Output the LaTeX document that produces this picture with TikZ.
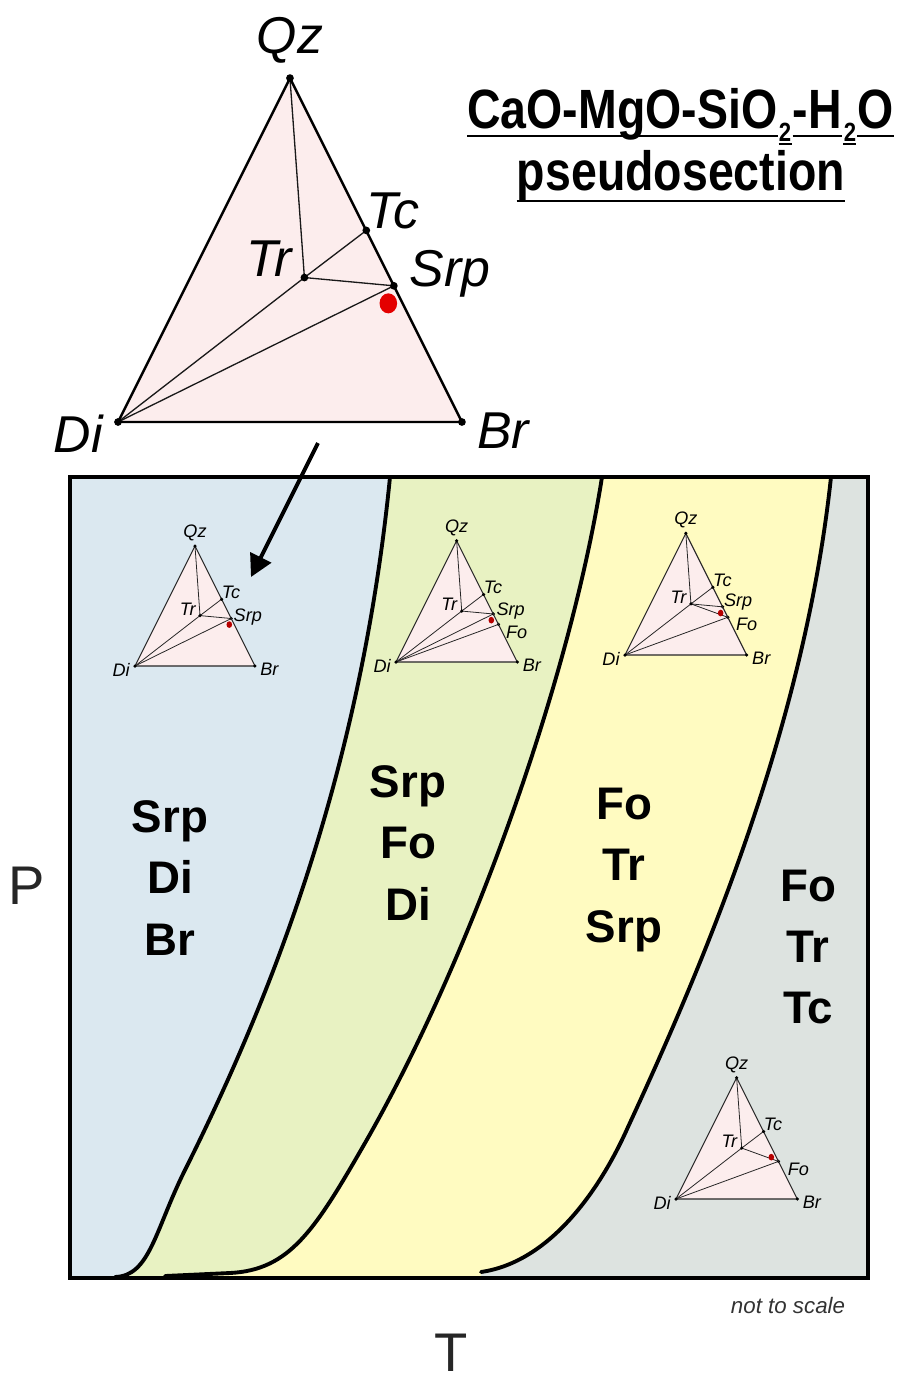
\documentclass[tikz,border=0pt]{standalone}
\usepackage{fontspec}
\setmainfont{Liberation Sans}
\usepackage{graphicx}
\usetikzlibrary{arrows.meta, calc}
\definecolor{zoneblue}{RGB}{219,232,240}
\definecolor{zonegreen}{RGB}{232,242,194}
\definecolor{zoneyellow}{RGB}{255,251,193}
\definecolor{zonegray}{RGB}{221,227,224}
\definecolor{tripink}{RGB}{252,237,237}
\definecolor{dotred}{RGB}{228,0,0}

% condensed bold title
\newcommand{\narrow}[1]{\scalebox{0.84}[1]{#1}}

% phase boundaries (pixel coordinates, y downwards), drawn from their top point
\newcommand{\bndA}{.. controls (360,780) and (265,1010) .. (185,1170) .. controls (155,1230) and (150,1276) .. (115,1277)}
\newcommand{\bndB}{.. controls (570,680) and (470,960) .. (365,1143) .. controls (315,1230) and (290,1270) .. (230,1273) -- (165,1276)}
\newcommand{\bndC}{.. controls (805,720) and (710,950) .. (628,1127) .. controls (600,1190) and (550,1262) .. (481,1272)}

% ternary Qz-Di-Br diagram: prefix, Di corner, side length, extra tie lines
\newcommand{\terntri}[4]{%
  \begin{scope}[shift={#2}, x=#3, y=#3]
    \coordinate (#1Di) at (0,0);
    \coordinate (#1Br) at (1,0);
    \coordinate (#1Qz) at (0.5,1);
    \coordinate (#1Tc) at (0.722,0.557);
    \coordinate (#1Srp) at (0.802,0.396);
    \coordinate (#1Fo) at (0.845,0.31);
    \coordinate (#1Tr) at (0.542,0.42);
    \coordinate (#1Ms) at (0.786,0.345);
    \fill[tripink] (#1Di) -- (#1Br) -- (#1Qz) -- cycle;
    \draw[tie] (#1Qz) -- (#1Tr) -- (#1Tc);
    \draw[tie] (#1Di) -- (#1Tr);
    #4
    \fill[mscolor] (#1Ms) circle[rdot];
    \draw[tedge] (#1Di) -- (#1Br) -- (#1Qz) -- cycle;
    \foreach \v in {Di,Br,Qz,Tr,Tc} \fill (#1\v) circle[vdot];
    \node[tlab] (#1QzL) at (0.5,1.11) {Qz};
    \node[tlab] (#1TcL) at (0.8,0.615) {Tc};
    \node[tlab] (#1TrL) at (0.44,0.475) {Tr};
    \node[tlab] (#1DiL) at (-0.115,-0.035) {Di};
    \node[tlab] (#1BrL) at (1.12,-0.025) {Br};
  \end{scope}}

\begin{document}
\begin{tikzpicture}[x=0.02cm, y=-0.02cm,
  tedge/.style={line width=0.6pt, draw=black!85},
  tie/.style={line width=0.45pt, draw=black!85},
  vdot/.style={radius=1pt},
  rdot/.style={x radius=1.6pt, y radius=1.9pt},
  mscolor/.style={fill=dotred!80!black},
  tlab/.style={font=\fontsize{10.3}{12}\selectfont\itshape, inner sep=0pt},
  zone/.style={font=\fontsize{26}{35}\selectfont\bfseries, align=center},
  bnd/.style={line width=2.2pt, line cap=round},
  ttl/.style={font=\fontsize{31.5}{34}\selectfont\bfseries, inner sep=0pt},
  ttlsub/.style={font=\fontsize{15}{17}\selectfont\bfseries, inner sep=0pt},
  uline/.style={line width=1.7pt},
  axlab/.style={font=\fontsize{31}{34}\selectfont, text=black!85, inner sep=0pt},
  arr/.style={-{Triangle[length=12.5pt, width=13pt]}, line width=2.2pt}
]
\useasboundingbox (0,0) rectangle (902,1383);

% fields of the P-T section
\fill[zonegray]   (70,477) rectangle (868,1278);
\fill[zoneyellow] (70,477) -- (831,477) \bndC -- (481,1278) -- (70,1278) -- cycle;
\fill[zonegreen]  (70,477) -- (602,477) \bndB -- (165,1278) -- (70,1278) -- cycle;
\fill[zoneblue]   (70,477) -- (390,477) \bndA -- (115,1278) -- (70,1278) -- cycle;
\draw[bnd] (390,477) \bndA;
\draw[bnd] (602,477) \bndB;
\draw[bnd] (831,477) \bndC;
\draw[line width=2.3pt] (70,477) rectangle (868,1278);

% big ternary
\begin{scope}[tedge/.style={line width=1.4pt, draw=black},
  tie/.style={line width=0.75pt, draw=black!90},
  vdot/.style={radius=2.2pt},
  rdot/.style={x radius=5pt, y radius=5.7pt},
  mscolor/.style={fill=dotred},
  tlab/.style={font=\fontsize{29.5}{32}\selectfont\itshape, inner sep=0pt}]
\terntri{m}{(118,422)}{6.88cm}{%
  \draw[tie] (mTr) -- (mSrp);
  \draw[tie] (mDi) -- (mSrp);
  \fill (mSrp) circle[vdot];
  \node[tlab] (mSrpL) at (0.965,0.43) {Srp};}
\end{scope}

% small ternaries
\terntri{a}{(135,666)}{2.4cm}{%
  \draw[tie] (aTr) -- (aSrp);
  \draw[tie] (aDi) -- (aSrp);
  \fill (aSrp) circle[vdot];
  \node[tlab] (aSrpL) at (0.94,0.41) {Srp};}
\terntri{b}{(396,662)}{2.426cm}{%
  \draw[tie] (bTr) -- (bSrp);
  \draw[tie] (bDi) -- (bSrp);
  \draw[tie] (bDi) -- (bFo);
  \fill (bSrp) circle[vdot];
  \fill (bFo) circle[vdot];
  \node[tlab] (bSrpL) at (0.945,0.42) {Srp};
  \node[tlab] (bFoL) at (0.995,0.245) {Fo};}
\terntri{c}{(625,655)}{2.434cm}{%
  \draw[tie] (cTr) -- (cSrp);
  \draw[tie] (cTr) -- (cFo);
  \draw[tie] (cDi) -- (cFo);
  \fill (cSrp) circle[vdot];
  \fill (cFo) circle[vdot];
  \node[tlab] (cSrpL) at (0.93,0.435) {Srp};
  \node[tlab] (cFoL) at (1.0,0.255) {Fo};}
\terntri{d}{(676,1199)}{2.426cm}{%
  \draw[tie] (dTr) -- (dFo);
  \draw[tie] (dDi) -- (dFo);
  \fill (dFo) circle[vdot];
  \node[tlab] (dFoL) at (1.01,0.245) {Fo};}

\coordinate (arrtop) at (318,443);
\coordinate (arrtip) at (251,577);
\draw[arr] (arrtop) -- (arrtip);

% assemblages
\node[zone] (zoneA) at (170,878) {Srp\\Di\\Br};
\node[zone] (zoneB) at (408,843) {Srp\\Fo\\Di};
\node[zone] (zoneC) at (624,870) {Fo\\Tr\\Srp};
\node[zone] (zoneD) at (808,947) {Fo\\Tr\\Tc};

% title
\node[ttl, anchor=base west] (ttlA) at (467,128) {\narrow{CaO-MgO-SiO}};
\node[ttlsub, anchor=base west] (ttlB) at ($(ttlA.base east)+(1,13)$) {\narrow{2}};
\node[ttl, anchor=base west] (ttlC) at ($(ttlB.base east)+(1,-13)$) {\narrow{-H}};
\node[ttlsub, anchor=base west] (ttlD) at ($(ttlC.base east)+(1,13)$) {\narrow{2}};
\node[ttl, anchor=base west] (ttlE) at ($(ttlD.base east)+(1,-13)$) {\narrow{O}};
\node[ttl, anchor=base] (ttlF) at (681,190) {\narrow{pseudosection}};
\foreach \t in {ttlA,ttlC,ttlE}
  \draw[uline] ($(\t.base west)+(0,8)$) -- ($(\t.base east)+(0,8)$);
\foreach \t in {ttlB,ttlD}
  \draw[uline] ($(\t.base west)+(0,3)$) -- ($(\t.base east)+(0,3)$);
\draw[uline] ($(ttlF.base west)+(0,11)$) -- ($(ttlF.base east)+(0,11)$);

% axes
\node[axlab] (paxis) at (27,886) {P};
\node[axlab] (taxis) at (451,1353) {T};
\node[font=\fontsize{12.7}{14}\selectfont\itshape, text=black!80] (scalenote) at (788,1306) {not to scale};
\end{tikzpicture}
\end{document}
